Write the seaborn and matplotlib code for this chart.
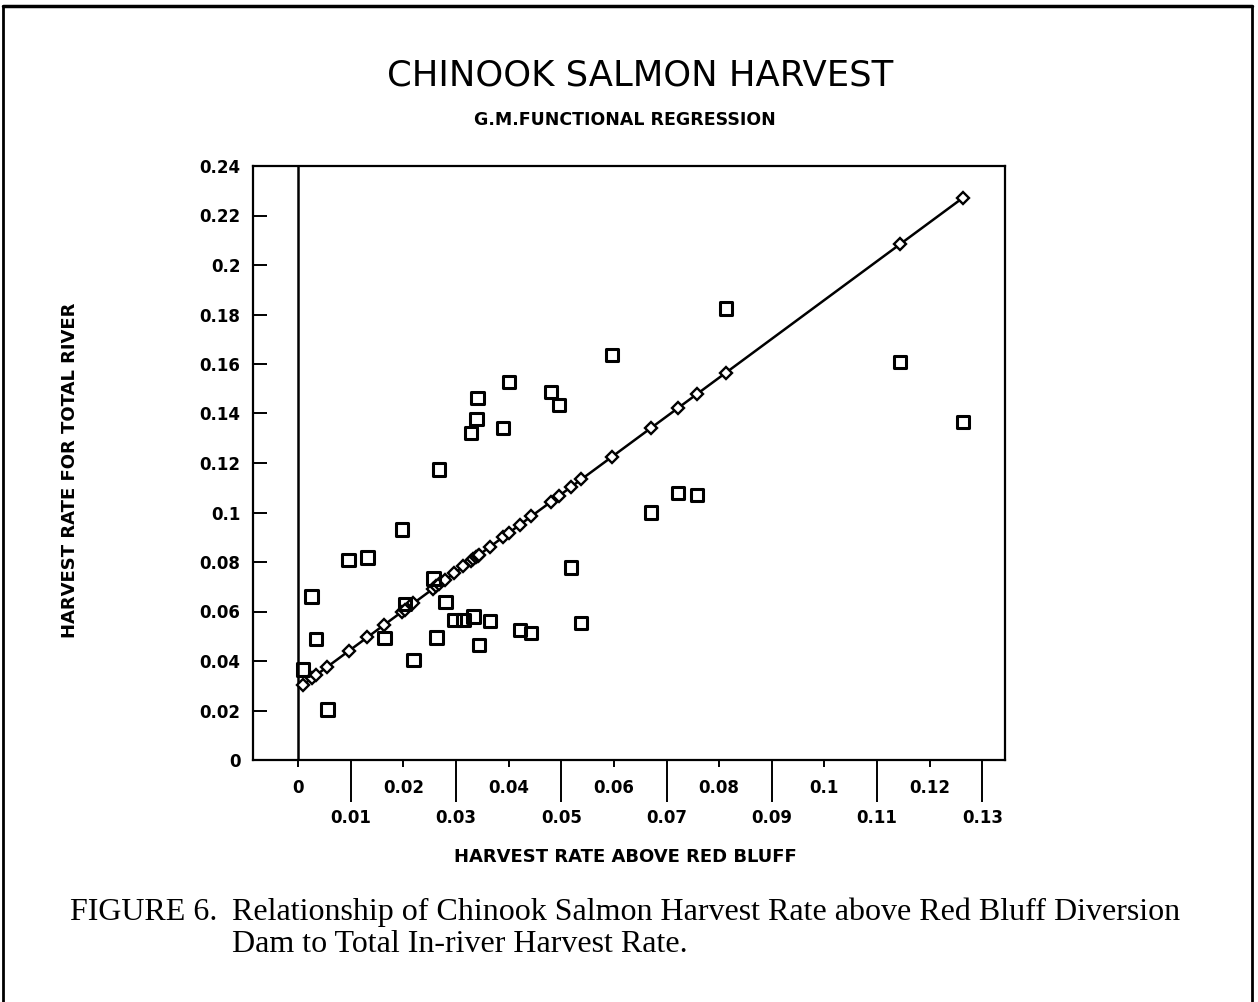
import numpy as np
import seaborn as sns
import matplotlib.pyplot as plt
from matplotlib.lines import Line2D

# Harvest rates (one square per year).
harvest_above = [0.0010, 0.0026, 0.0034, 0.0056, 0.0096, 0.0132, 0.0164, 0.0197, 0.0203,
                 0.0219, 0.0257, 0.0263, 0.0268, 0.0280, 0.0297, 0.0314, 0.0329, 0.0333,
                 0.0339, 0.0341, 0.0344, 0.0365, 0.0389, 0.0401, 0.0422, 0.0443, 0.0481,
                 0.0496, 0.0519, 0.0538, 0.0597, 0.0670, 0.0722, 0.0758, 0.0813, 0.1143, 0.1263]
harvest_total = [0.0366, 0.0660, 0.0490, 0.0204, 0.0808, 0.0819, 0.0492, 0.0931, 0.0630,
                 0.0403, 0.0734, 0.0495, 0.1174, 0.0639, 0.0566, 0.0566, 0.1321, 0.0580,
                 0.1377, 0.1463, 0.0465, 0.0562, 0.1342, 0.1528, 0.0526, 0.0512, 0.1488,
                 0.1434, 0.0778, 0.0553, 0.1636, 0.1000, 0.1078, 0.1070, 0.1824, 0.1609, 0.1366]

# Tick positions and labels
x_even = [0, 0.02, 0.04, 0.06, 0.08, 0.10, 0.12]
x_even_labels = ["0", "0.02", "0.04", "0.06", "0.08", "0.1", "0.12"]
x_odd = [0.01, 0.03, 0.05, 0.07, 0.09, 0.11, 0.13]
x_odd_labels = ["0.01", "0.03", "0.05", "0.07", "0.09", "0.11", "0.13"]
y_ticks = [0, 0.02, 0.04, 0.06, 0.08, 0.10, 0.12, 0.14, 0.16, 0.18, 0.20, 0.22, 0.24]
y_labels = ["0", "0.02", "0.04", "0.06", "0.08", "0.1", "0.12", "0.14", "0.16",
            "0.18", "0.2", "0.22", "0.24"]

# G.M. functional regression (slope = sy/sx, through the means)
x = np.array(harvest_above)
y = np.array(harvest_total)
gm_slope = y.std() / x.std()
gm_icpt = y.mean() - gm_slope * x.mean()
fitted = gm_icpt + gm_slope * x

sns.set_style("white")
plt.rcParams['font.family'] = ['DejaVu Sans']
plt.rcParams['text.color'] = 'black'
plt.rcParams['xtick.color'] = 'black'
plt.rcParams['ytick.color'] = 'black'

W, H = 1258, 1002
fig = plt.figure(figsize=(W / 100, H / 100), dpi=100)
L, R, T, B = 253, 1005, 166, 760
ax = fig.add_axes([L / W, 1 - B / H, (R - L) / W, (B - T) / H])

# Regression line with diamonds at each observed x
sns.lineplot(x=harvest_above, y=fitted, color='black', lw=1.8, marker='D', markersize=6,
             markerfacecolor='white', markeredgecolor='black', markeredgewidth=1.7,
             estimator=None, ax=ax, zorder=3)
# Observed points
sns.scatterplot(x=harvest_above, y=harvest_total, marker='s', s=80, facecolor='none',
                edgecolor='black', linewidth=2.2, ax=ax, zorder=4)

ax.axvline(0, color='black', lw=1.8, zorder=2)

ax.set_xlim(-0.00855, 0.1343)
ax.set_ylim(0, 0.24)
for s in ax.spines.values():
    s.set_visible(True)
    s.set_color('black')
    s.set_linewidth(1.6)

ax.set_xticks(x_odd)
ax.set_xticklabels(x_odd_labels)
ax.set_xticks(x_even, minor=True)
ax.set_xticklabels(x_even_labels, minor=True)
ax.tick_params(axis='x', which='major', direction='out', length=30, width=1.4, pad=5,
               labelsize=12, bottom=True)
ax.tick_params(axis='x', which='minor', direction='out', length=5, width=1.4, pad=9,
               labelsize=12, bottom=True)
ax.set_yticks(y_ticks)
ax.set_yticklabels(y_labels)
ax.tick_params(axis='y', which='major', direction='in', length=10, width=1.4, pad=9,
               labelsize=12, left=True)
for lab in ax.get_xticklabels(which='both') + ax.get_yticklabels():
    lab.set_fontweight('bold')
ax.set_xlabel("")
ax.set_ylabel("")

# Titles and axis labels
fig.text(640 / W, 1 - 75 / H, "CHINOOK SALMON HARVEST", ha='center', va='center', fontsize=25.5)
fig.text(625 / W, 1 - 120 / H, "G.M.FUNCTIONAL REGRESSION", ha='center', va='center',
         fontsize=12.5, fontweight='bold')
fig.text(70 / W, 1 - 470 / H, "HARVEST RATE FOR TOTAL RIVER", ha='center', va='center',
         rotation=90, fontsize=13, fontweight='bold')
fig.text(625 / W, 1 - 857 / H, "HARVEST RATE ABOVE RED BLUFF", ha='center', va='center',
         fontsize=13, fontweight='bold')

# Figure caption
fig.text(70 / W, 1 - 912 / H, "FIGURE 6.", ha='left', va='center', fontsize=23,
         family='Liberation Serif')
fig.text(232 / W, 1 - 912 / H,
         "Relationship of Chinook Salmon Harvest Rate above Red Bluff Diversion",
         ha='left', va='center', fontsize=23, family='Liberation Serif')
fig.text(232 / W, 1 - 944 / H, "Dam to Total In-river Harvest Rate.", ha='left',
         va='center', fontsize=23, family='Liberation Serif')

# Page border
fig.add_artist(Line2D([3 / W, 3 / W], [0, 1 - 6 / H], color='black', lw=2))
fig.add_artist(Line2D([3 / W, 1252 / W], [1 - 6 / H, 1 - 6 / H], color='black', lw=2.5))
fig.add_artist(Line2D([1252 / W, 1252 / W], [0, 1 - 6 / H], color='black', lw=2))

fig.savefig("out.png", dpi=100)
